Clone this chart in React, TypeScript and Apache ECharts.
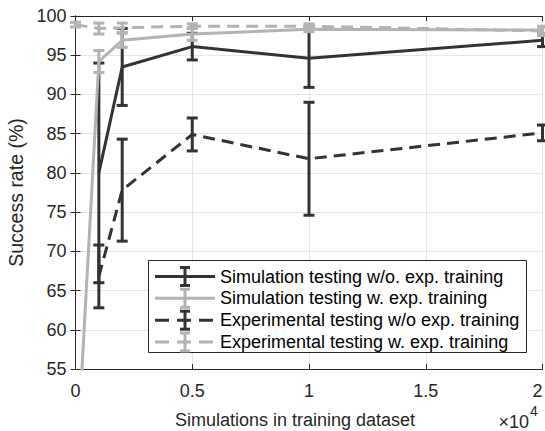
import React, { useEffect, useRef } from "react";
import * as echarts from "echarts";

// ---- Data ----
const xTicks = [0, 5000, 10000, 15000, 20000];

const simWoX = [1000, 2000, 5000, 10000, 20000];
const simWoY = [80.0, 93.5, 96.1, 94.6, 96.9];
const simWoErr = [14.0, 4.9, 1.7, 3.7, 0.8];

const simWX = [0, 1000, 2000, 5000, 10000, 20000];
const simWY = [40.0, 94.2, 96.9, 97.7, 98.3, 98.2];
const simWErr = [0, 1.4, 0.9, 0.8, 0.3, 0.4];

const expWoX = [1000, 2000, 5000, 10000, 20000];
const expWoY = [66.8, 77.8, 84.9, 81.8, 85.1];
const expWoErr = [4.0, 6.5, 2.1, 7.2, 1.0];

const expWX = [0, 1000, 2000, 5000, 10000, 20000];
const expWY = [98.9, 98.4, 98.5, 98.7, 98.7, 98.1];
const expWErr = [0.3, 0.7, 0.6, 0.3, 0.3, 0.6];

const seriesNames = [
  "Simulation testing w/o. exp. training",
  "Simulation testing w. exp. training",
  "Experimental testing w/o exp. training",
  "Experimental testing w. exp. training",
];

const DARK = "#333333";
const LIGHT = "#b3b3b3";
const AXIS = "#262626";
const FONT = "'Liberation Sans', Arial, Helvetica, sans-serif";
const DASH = [12, 7];

function lineSeries(name: string, xs: number[], ys: number[], color: string, dashed: boolean, z: number) {
  return {
    type: "line",
    name,
    z,
    data: xs.map((x, i) => [x, ys[i]]),
    showSymbol: false,
    symbol: "none",
    clip: true,
    lineStyle: { color, width: 3, type: dashed ? DASH : "solid", cap: "butt" },
    itemStyle: { color },
  };
}

function errSeries(name: string, xs: number[], ys: number[], errs: number[], color: string, z: number) {
  return {
    type: "custom",
    name,
    z,
    data: xs.map((x, i) => [x, ys[i] - errs[i], ys[i] + errs[i]]),
    encode: { x: 0, y: [1, 2] },
    renderItem: (params: any, api: any) => {
      const x = api.value(0);
      const lo = api.value(1);
      const hi = api.value(2);
      if (hi - lo <= 0) return null;
      const p1 = api.coord([x, lo]);
      const p2 = api.coord([x, hi]);
      const hw = 5.5;
      const st = { stroke: color, lineWidth: 3 };
      return {
        type: "group",
        children: [
          { type: "line", shape: { x1: p1[0], y1: p1[1], x2: p2[0], y2: p2[1] }, style: st },
          { type: "line", shape: { x1: p1[0] - hw, y1: p1[1], x2: p1[0] + hw, y2: p1[1] }, style: st },
          { type: "line", shape: { x1: p2[0] - hw, y1: p2[1], x2: p2[0] + hw, y2: p2[1] }, style: st },
        ],
      };
    },
  };
}

function legendGraphic() {
  const left = 148.5;
  const top = 260.5;
  const width = 378;
  const height = 92;
  const rowY = [276.5, 298.3, 320.2, 342];
  const styles = [
    { color: DARK, dashed: false },
    { color: LIGHT, dashed: false },
    { color: DARK, dashed: true },
    { color: LIGHT, dashed: true },
  ];
  const children: any[] = [
    {
      type: "rect",
      shape: { x: left, y: top, width, height },
      style: { fill: "#ffffff", stroke: AXIS, lineWidth: 1 },
      z: 100,
    },
  ];
  styles.forEach((s, i) => {
    const y = rowY[i];
    const ls: any = { stroke: s.color, lineWidth: 3 };
    if (s.dashed) ls.lineDash = [14, 8];
    children.push({ type: "line", shape: { x1: 155, y1: y, x2: 215, y2: y }, style: ls, z: 101 });
    const cs = { stroke: s.color, lineWidth: 3 };
    children.push({ type: "line", shape: { x1: 185, y1: y - 9, x2: 185, y2: y + 9 }, style: cs, z: 102 });
    children.push({ type: "line", shape: { x1: 180, y1: y - 9, x2: 190, y2: y - 9 }, style: cs, z: 102 });
    children.push({ type: "line", shape: { x1: 180, y1: y + 9, x2: 190, y2: y + 9 }, style: cs, z: 102 });
    children.push({
      type: "text",
      x: 220,
      y,
      style: {
        text: seriesNames[i],
        fill: "#000000",
        font: `18px ${FONT}`,
        textVerticalAlign: "middle",
        verticalAlign: "middle",
      },
      z: 103,
    });
  });
  return children;
}

export default function App() {
  const ref = useRef<HTMLDivElement>(null);
  useEffect(() => {
    if (!ref.current) return;
    const chart = echarts.init(ref.current, undefined, { renderer: "svg" });
    const axisCommon = {
      type: "value",
      axisLine: { show: true, lineStyle: { color: AXIS, width: 1 } },
      axisTick: { show: true, inside: true, length: 5, lineStyle: { color: AXIS } },
    };
    const option: any = {
      animation: false,
      backgroundColor: "#ffffff",
      textStyle: { fontFamily: FONT },
      grid: { left: 75.5, right: 2.5, top: 16, bottom: 62, containLabel: false, outerBoundsMode: "none" },
      xAxis: [
        {
          ...axisCommon,
          position: "bottom",
          min: xTicks[0],
          max: xTicks[xTicks.length - 1],
          interval: 5000,
          axisLabel: {
            fontSize: 18,
            color: AXIS,
            margin: 13,
            fontFamily: FONT,
            alignMaxLabel: "right",
            formatter: (v: number) => String(v / 10000),
          },
          splitLine: { show: true, lineStyle: { color: "#e6e6e6", width: 1 } },
          name: "Simulations in training dataset",
          nameLocation: "middle",
          nameGap: 42,
          nameTextStyle: { fontSize: 18, color: AXIS, fontFamily: FONT, padding: [0, 28, 0, 0] },
        },
        {
          ...axisCommon,
          position: "top",
          min: xTicks[0],
          max: xTicks[xTicks.length - 1],
          interval: 5000,
          axisLabel: { show: false },
          splitLine: { show: false },
        },
      ],
      yAxis: [
        {
          ...axisCommon,
          position: "left",
          min: 55,
          max: 100,
          interval: 5,
          axisLabel: { fontSize: 18, color: AXIS, margin: 9, fontFamily: FONT },
          splitLine: { show: true, lineStyle: { color: "#e6e6e6", width: 1 } },
          name: "Success rate (%)",
          nameLocation: "middle",
          nameGap: 50,
          nameTextStyle: { fontSize: 19.5, color: AXIS, fontFamily: FONT },
        },
        {
          ...axisCommon,
          position: "right",
          min: 55,
          max: 100,
          interval: 5,
          axisLabel: { show: false },
          splitLine: { show: false },
        },
      ],
      series: [
        lineSeries(seriesNames[0], simWoX, simWoY, DARK, false, 3),
        errSeries("e0", simWoX, simWoY, simWoErr, DARK, 3),
        lineSeries(seriesNames[1], simWX, simWY, LIGHT, false, 4),
        errSeries("e1", simWX, simWY, simWErr, LIGHT, 4),
        lineSeries(seriesNames[2], expWoX, expWoY, DARK, true, 5),
        errSeries("e2", expWoX, expWoY, expWoErr, DARK, 5),
        lineSeries(seriesNames[3], expWX, expWY, LIGHT, true, 6),
        errSeries("e3", expWX, expWY, expWErr, LIGHT, 6),
      ],
      graphic: [
        ...legendGraphic(),
        {
          type: "text",
          x: 529,
          y: 422,
          style: {
            text: "×10",
            font: `18px ${FONT}`,
            fill: AXIS,
            align: "right",
            textAlign: "right",
            verticalAlign: "middle",
            textVerticalAlign: "middle",
          },
        },
        {
          type: "text",
          x: 530,
          y: 411,
          style: {
            text: "4",
            font: `14px ${FONT}`,
            fill: AXIS,
            align: "left",
            textAlign: "left",
            verticalAlign: "middle",
            textVerticalAlign: "middle",
          },
        },
      ],
    };
    chart.setOption(option);
    return () => chart.dispose();
  }, []);
  return (
    <div
      ref={ref}
      style={{ position: "absolute", left: 0, top: 0, width: 545, height: 431 }}
    />
  );
}
